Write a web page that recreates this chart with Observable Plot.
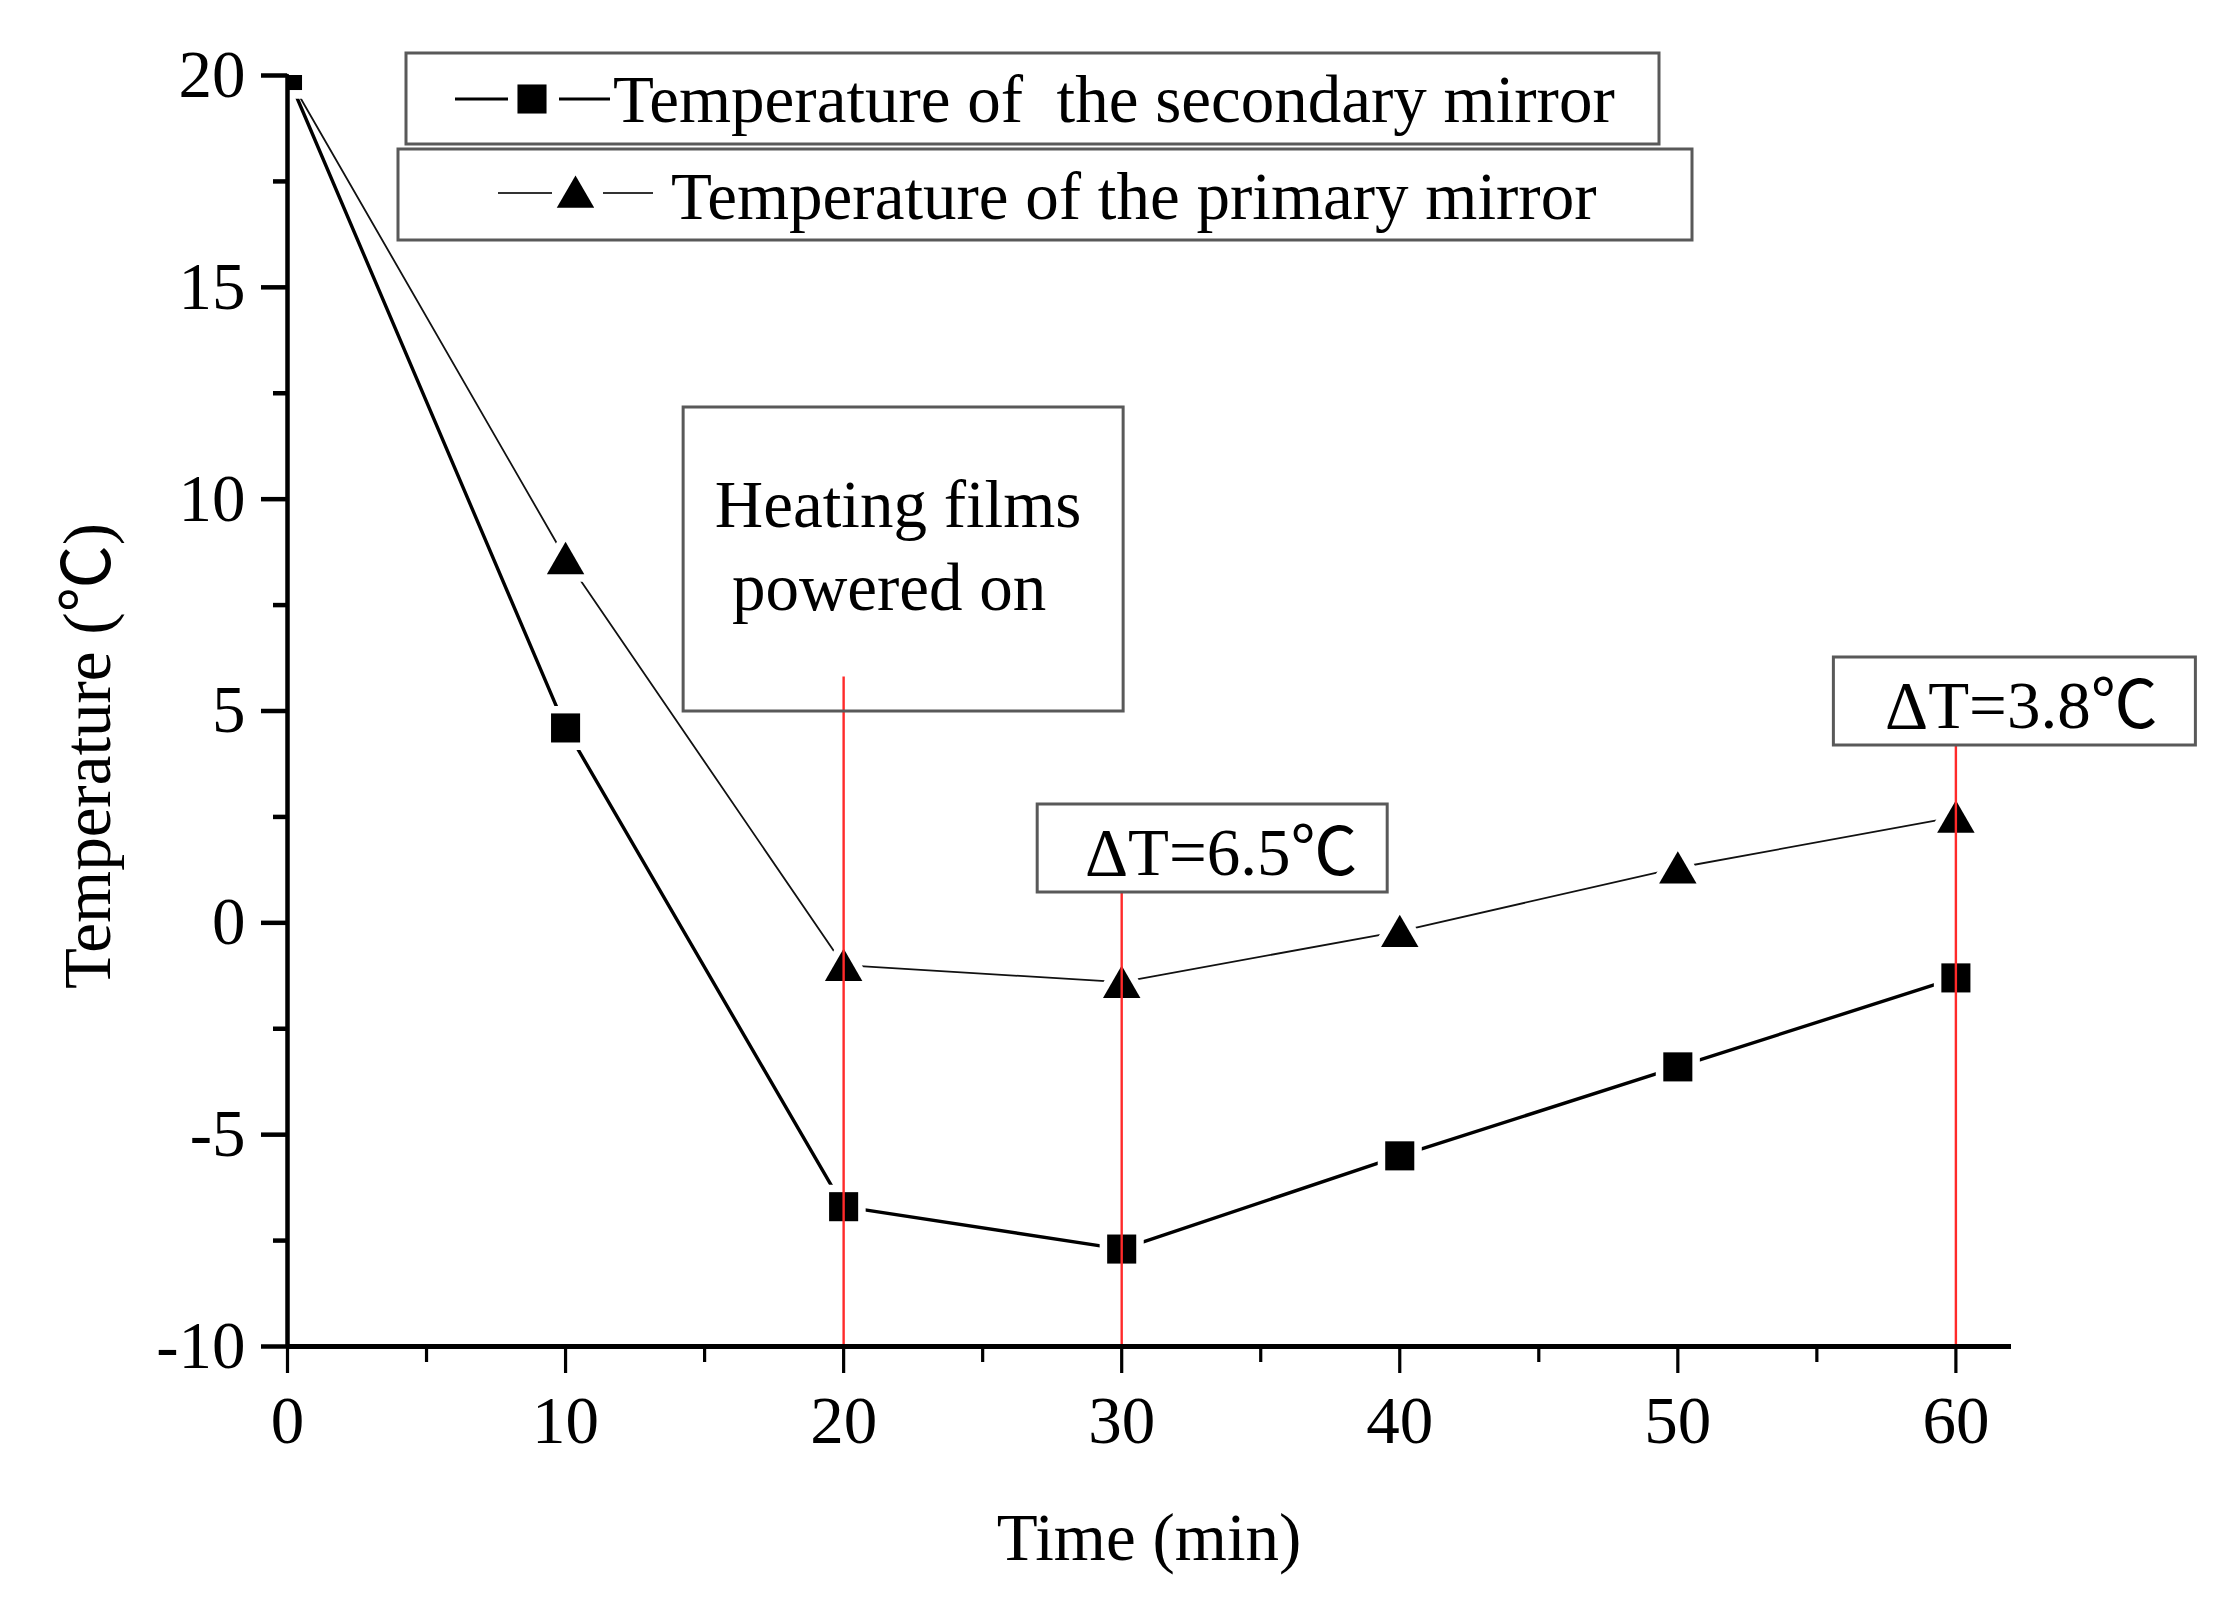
<!DOCTYPE html>
<html>
<head>
<meta charset="utf-8">
<script src="https://cdn.jsdelivr.net/npm/d3@7"></script>
<script src="https://cdn.jsdelivr.net/npm/@observablehq/plot@0.6"></script>
<style>
  html, body { margin: 0; padding: 0; background: #fff; overflow: hidden; }
  #chart svg { display: block; }
</style>
</head>
<body>
<div id="chart"></div>
<script>
// ---- data ----
const time = [0, 10, 20, 30, 40, 50, 60];
const secondaryTemp = [20, 4.6, -6.7, -7.7, -5.5, -3.4, -1.3];
const primaryTemp = [20, 8.6, -1.0, -1.4, -0.2, 1.3, 2.5];
const seriesNames = ["Temperature of  the secondary mirror", "Temperature of the primary mirror"];
const xMajorTicks = [0, 10, 20, 30, 40, 50, 60];
const xMinorTicks = [5, 15, 25, 35, 45, 55];
const yMajorTicks = [-10, -5, 0, 5, 10, 15, 20];
const yMinorTicks = [-7.5, -2.5, 2.5, 7.5, 12.5, 17.5];
const markerTimes = [20, 30, 60];
const markerTops = [5.8, 0.7, 4.2];
const heatingLines = ["Heating films", "powered on"];
const deltaLabels = ["ΔT=6.5℃", "ΔT=3.8℃"];
const xTitle = "Time (min)";
const yTitle = "Temperature (℃)";

// ---- tables ----
const secondary = time.map((t, i) => ({t, v: secondaryTemp[i]}));
const primary = time.map((t, i) => ({t, v: primaryTemp[i]}));
const redRules = markerTimes.map((t, i) => ({t, top: markerTops[i]}));

const FONT = '"Liberation Serif", "Times New Roman", "Noto Sans CJK SC", serif';
const FS = 67;

const plot = Plot.plot({
  width: 2221,
  height: 1599,
  marginLeft: 287,
  marginRight: 210,
  marginTop: 75,
  marginBottom: 253,
  style: {fontFamily: FONT, fontSize: FS + "px", color: "black", background: "white", overflow: "visible"},
  x: {domain: [0, 62], label: null},
  y: {domain: [-10, 20], label: null},
  marks: [
    Plot.line(primary, {x: "t", y: "v", stroke: "#111", strokeWidth: 1.8}),
    Plot.line(secondary, {x: "t", y: "v", stroke: "black", strokeWidth: 3.4}),
    Plot.dot(primary, {x: "t", y: "v", symbol: "triangle", r: 13.9, dy: 5, fill: "black",
      stroke: "white", strokeWidth: 15, paintOrder: "stroke", clip: true}),
    Plot.dot(secondary, {x: "t", y: "v", symbol: "square", r: 16.4, fill: "black",
      stroke: "white", strokeWidth: 15, paintOrder: "stroke", clip: true}),
    Plot.ruleX(redRules, {x: "t", y1: "top", y2: -10, stroke: "#ff2a2a", strokeWidth: 2.4}),
    // axes
    Plot.ruleX([0], {y1: -10, y2: 20, stroke: "black", strokeWidth: 4.5}),
    Plot.ruleY([-10], {x1: 0, x2: 62, stroke: "black", strokeWidth: 5}),
    Plot.axisY(yMajorTicks, {tickSize: 26, tickPadding: 16, strokeWidth: 4.5,
      tickFormat: d => String(d), label: null}),
    Plot.axisY(yMinorTicks, {tickSize: 14, strokeWidth: 4.5, tickFormat: () => "", label: null}),
    Plot.axisX(xMajorTicks, {tickSize: 27, tickPadding: 22, strokeWidth: 3.2,
      tickFormat: d => String(d), label: null}),
    Plot.axisX(xMinorTicks, {tickSize: 16, strokeWidth: 3.2, tickFormat: () => "", label: null})
  ]
});

document.getElementById("chart").appendChild(plot);

// ---- annotations, titles and legend ----
const xs = plot.scale("x"), ys = plot.scale("y");
const X = v => xs.apply(v), Y = v => ys.apply(v);
const svg = d3.select(plot);
const g = svg.append("g").attr("font-family", FONT).attr("font-size", FS).attr("fill", "black");
const BOX = {stroke: "#595959", sw: 3};

function box(x, y, w, h, fill) {
  g.append("rect").attr("x", x).attr("y", y).attr("width", w).attr("height", h)
    .attr("fill", fill || "white").attr("stroke", BOX.stroke).attr("stroke-width", BOX.sw);
}
function label(txt, x, y, anchor) {
  g.append("text").attr("x", x).attr("y", y).attr("text-anchor", anchor || "start")
    .style("white-space", "pre").text(txt);
}

// axis titles
label(xTitle, (X(0) + X(62)) / 2, 1560, "middle");
g.append("text").attr("transform", `translate(110, 756) rotate(-90)`)
  .attr("text-anchor", "middle").text(yTitle);

// heating films box (transparent so the red line shows inside it)
box(X(20) - 160, 407, 440, 304, "none");
label(heatingLines[0], X(20) + 55, 527, "middle");
label(heatingLines[1], X(20) + 46, 610, "middle");

// delta T boxes
box(X(30) - 84, 804, 350, 88);
label(deltaLabels[0], X(30) + 100, 875, "middle");
box(X(60) - 122, 657, 362, 88);
label(deltaLabels[1], X(60) + 66, 728, "middle");

// legend
box(406, 53, 1253, 91);
g.append("line").attr("x1", 455).attr("x2", 508).attr("y1", 99).attr("y2", 99).attr("stroke", "black").attr("stroke-width", 3);
g.append("line").attr("x1", 559).attr("x2", 610).attr("y1", 99).attr("y2", 99).attr("stroke", "black").attr("stroke-width", 3);
g.append("path").attr("d", d3.symbol(d3.symbolSquare, Math.PI * 16.4 * 16.4)())
  .attr("transform", "translate(532,99)").attr("fill", "black");
label(seriesNames[0], 613, 122);

box(398, 149, 1294, 91);
g.append("line").attr("x1", 498).attr("x2", 552).attr("y1", 193).attr("y2", 193).attr("stroke", "#333").attr("stroke-width", 2);
g.append("line").attr("x1", 603).attr("x2", 653).attr("y1", 193).attr("y2", 193).attr("stroke", "#333").attr("stroke-width", 2);
g.append("path").attr("d", d3.symbol(d3.symbolTriangle, Math.PI * 13.9 * 13.9)())
  .attr("transform", "translate(575.5,197)").attr("fill", "black");
label(seriesNames[1], 671, 219);
</script>
</body>
</html>
